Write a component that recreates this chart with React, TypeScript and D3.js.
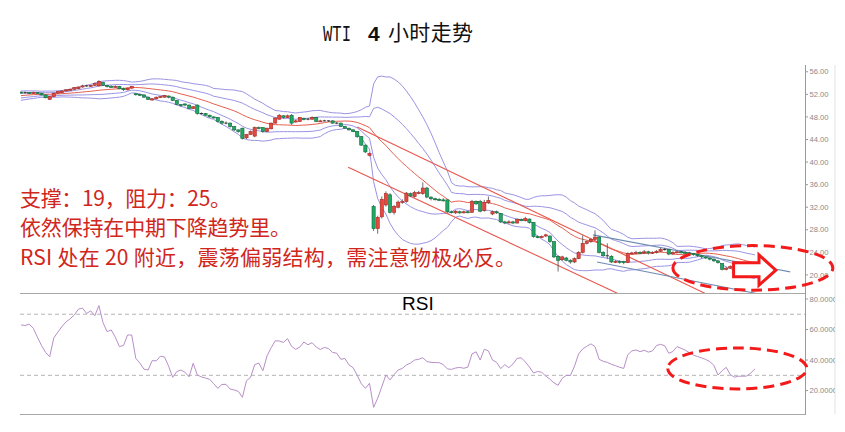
import React from 'react';
import * as d3 from 'd3';

// ---------------- DATA ----------------
// closes of the 19 bars before the visible window (estimated, only used to seed the 20-bar Bollinger band)
const prevCloses = [51.0, 51.1, 51.3, 51.2, 51.4, 51.6, 51.5, 51.7, 51.8, 51.6, 51.9, 52.0, 51.8, 52.1, 52.2, 52.0, 52.3, 52.2, 52.4];

const opens = [
  52.4,52.3,52.3,52.2,52.3,52.2,51.9,51.1,51.6,52.2,
  52.3,52.6,52.7,52.9,53.0,53.3,53.5,53.5,53.6,53.5,
  54.1,53.6,53.4,53.3,53.4,53.0,52.8,53.1,52.1,52.0,
  51.9,51.5,51.0,51.2,51.5,51.5,51.7,51.5,50.9,50.2,
  50.3,50.1,49.5,50.1,48.6,48.6,48.3,48.0,47.9,47.2,
  46.9,46.9,46.3,45.7,46.0,44.3,44.9,44.6,46.1,46.1,
  45.4,45.9,46.9,47.6,48.2,47.9,48.3,47.1,47.2,47.7,
  47.6,47.6,47.9,47.2,47.3,47.3,47.3,46.9,46.9,46.3,
  46.0,45.7,45.4,44.5,43.0,41.2,
  32.1,28.2,30.3,32.4,34.2,31.1,32.0,32.9,33.0,34.4,
  33.9,34.5,34.4,35.4,33.8,33.5,33.4,33.3,33.3,31.2,
  31.0,31.2,31.0,31.2,31.1,33.0,33.0,31.4,32.8,30.8,
  31.2,30.9,29.4,29.3,29.4,29.2,29.8,29.6,29.9,29.3,
  26.8,26.7,26.9,26.9,25.9,23.3,22.7,23.0,22.6,22.3,
  22.9,24.0,25.6,25.9,26.3,26.7,24.0,23.4,23.3,22.3,
  22.4,22.4,22.2,23.8,23.9,24.0,23.9,24.1,23.9,24.0,
  24.2,24.5,24.5,23.7,24.0,24.1,24.0,23.9,23.8,23.6,
  23.4,23.2,23.0,22.8,22.5,22.0,21.0,21.2,20.6,20.4,
  20.4,20.5,20.4,20.5,
];
const highs = [
  52.5,52.5,52.4,52.5,52.4,52.3,52.0,51.7,52.3,52.6,
  52.7,52.9,53.0,53.3,53.4,53.7,53.7,53.7,54.1,54.5,
  54.2,53.7,53.6,53.6,53.5,53.2,53.2,53.5,52.2,52.1,
  52.0,51.6,51.3,51.6,51.7,51.9,51.8,51.6,51.0,50.3,
  50.4,50.2,49.9,50.2,48.8,48.7,48.4,48.1,48.0,47.4,
  47.2,47.0,46.4,45.8,46.1,45.0,45.6,46.3,46.3,46.2,
  46.1,47.0,47.9,48.5,48.3,48.4,48.5,47.5,48.0,47.9,
  47.8,48.1,48.0,47.5,47.5,47.4,47.4,47.1,47.0,46.4,
  46.1,45.8,45.5,44.6,43.1,41.7,
  32.4,30.5,33.9,34.8,34.5,32.4,33.2,33.4,34.7,34.6,
  34.9,34.9,36.4,35.6,33.9,33.7,33.6,33.6,33.4,31.4,
  31.5,31.4,31.4,31.4,33.3,33.2,33.3,33.3,33.9,31.4,
  31.4,31.0,29.6,29.7,29.6,30.0,30.0,30.3,30.0,29.4,
  27.0,27.0,27.3,27.0,26.0,23.5,23.4,23.2,22.8,23.1,
  24.2,27.0,26.1,26.5,27.9,26.9,24.2,25.6,23.5,22.6,
  22.6,22.5,24.0,24.1,24.3,24.2,24.4,24.3,24.2,24.4,
  24.8,24.8,24.6,24.2,24.3,24.3,24.2,24.1,23.9,23.7,
  23.5,23.3,23.1,22.9,22.6,22.1,21.4,21.7,20.8,20.6,
  20.7,20.7,20.7,20.8,
];
const lows = [
  52.1,52.1,52.0,52.1,52.0,51.8,51.3,51.0,51.5,52.1,
  52.2,52.5,52.6,52.8,52.9,53.2,53.3,53.3,53.5,53.4,
  53.5,53.2,53.2,53.2,52.9,52.6,52.7,53.0,51.8,51.7,
  51.4,51.0,50.9,51.1,51.4,51.4,51.3,50.8,50.1,49.8,
  49.9,49.4,49.4,48.4,48.4,48.2,47.9,47.7,47.0,46.7,
  46.7,46.1,45.5,45.2,44.0,44.1,44.8,44.4,45.8,45.2,
  45.3,45.8,46.8,47.5,47.7,47.8,46.6,47.0,47.1,47.4,
  47.4,47.5,47.1,47.1,47.2,47.1,46.8,46.7,46.2,45.9,
  45.6,45.3,44.3,42.9,41.6,41.0,
  27.8,27.3,30.0,32.1,30.9,30.7,31.8,32.6,32.8,33.8,
  33.7,34.3,34.2,33.6,33.2,33.2,33.1,33.0,31.0,30.9,
  30.8,30.8,30.9,30.9,31.0,32.4,31.1,31.2,32.6,30.6,
  30.8,29.2,29.0,29.1,29.0,29.1,29.5,29.5,29.1,26.6,
  26.5,26.5,26.7,25.7,23.0,20.6,22.5,22.4,22.0,22.1,
  22.8,23.8,25.4,25.7,26.1,23.8,23.2,22.8,22.1,22.1,
  22.0,21.9,22.1,23.6,23.7,23.7,23.7,23.6,23.7,23.8,
  24.1,24.3,23.5,23.6,23.8,23.8,23.7,23.6,23.4,23.2,
  22.9,22.8,22.6,22.3,22.0,20.8,20.8,21.1,20.2,20.2,
  20.2,19.6,20.2,20.3,
];
const closes = [
  52.3,52.3,52.2,52.3,52.2,51.9,51.4,51.6,52.2,52.5,
  52.6,52.8,52.9,53.2,53.3,53.5,53.5,53.6,53.9,54.3,
  53.6,53.4,53.3,53.4,53.0,52.9,53.1,53.4,52.0,51.9,
  51.5,51.1,51.2,51.5,51.6,51.8,51.5,50.9,50.2,50.0,
  50.1,49.5,49.8,48.6,48.6,48.3,48.0,47.9,47.2,46.9,
  46.9,46.3,45.7,45.4,44.2,44.9,45.4,46.1,46.0,45.4,
  46.0,46.9,47.8,48.3,47.9,48.2,46.9,47.3,47.9,47.6,
  47.6,47.9,47.2,47.3,47.3,47.3,46.9,46.9,46.3,46.0,
  45.7,45.4,44.5,43.0,41.8,41.5,
  28.2,30.2,33.4,34.4,31.1,32.1,32.9,33.0,34.5,34.0,
  34.6,34.6,35.4,33.8,33.5,33.4,33.3,33.2,31.2,31.1,
  31.3,31.0,31.2,31.1,33.0,32.6,31.3,32.8,33.2,31.2,
  31.0,29.4,29.2,29.4,29.2,29.8,29.7,30.0,29.3,26.8,
  26.7,26.8,27.1,25.9,23.2,22.6,23.2,22.6,22.3,22.9,
  24.0,25.6,25.9,26.3,26.7,24.0,23.4,23.4,22.3,22.4,
  22.3,22.2,23.8,23.9,24.0,23.9,24.1,23.9,24.0,24.2,
  24.5,24.5,23.7,24.0,24.1,24.0,23.9,23.8,23.6,23.4,
  23.2,23.0,22.8,22.5,22.2,21.0,21.2,21.5,20.4,20.4,
  20.5,20.4,20.5,20.6,
];
const rsiValues = [
  63,62.6,63.5,60.8,55,49.5,45,42.2,54.5,58.3,
  62,65,67,69.5,73.3,74,70.5,72.2,69,75.7,
  64.5,58.6,59.7,55,48.8,49.5,56.4,56.4,41.1,38,
  34,33.5,39.6,39.5,42.5,42,36,28.7,32.4,33.5,
  32,29,37.9,30.2,29,28.2,27.4,24.5,21.5,24,
  24.1,21,20.4,19.5,15.6,26.5,28.7,37,38,33,
  42.7,48,52.6,52.5,51.5,54,49,47,48.5,51.8,
  50,51.4,48.5,46.9,48.3,47.5,45,44.5,40.5,41,
  36.8,35,30,24.5,21.5,24.8,9,15,22.5,30.2,
  27,30.5,33.5,34.5,36.8,38,40,40.5,41.5,39,
  38.5,38.3,38.3,37,34.2,33.9,34.8,35.2,34.6,35.4,
  44,45.4,40,47.1,46,40,38.5,34.4,37,35,
  37.5,41.1,41.5,38.8,35.5,31.5,32.5,32,29.5,27.5,
  25,23.5,28,30,29.8,36,44,47.3,49,50.6,
  48.8,40.5,39.2,38.5,37.2,36.3,35.3,34.5,43.5,46,
  46.6,45.5,46.4,45.2,46,49.5,50.3,49.4,44.4,45.6,
  48.8,47.7,46.5,44.9,43.2,42.3,41.4,40.4,39,36.5,
  30.2,33,35.2,30.5,28.8,29.4,29.4,29.5,31.5,34.2,
];

const priceTicks = [56, 52, 48, 44, 40, 36, 32, 28, 24, 20];
const rsiTicks = [80, 60, 40, 20];
const rsiLevels = [70, 30];

// trend lines: [bar index, price]
const redTrendUpper = [[82, 46.2], [175, 13.9]];
const redTrendLower = [[79.8, 39.1], [160, 11.8]];
const blueTrendUpper = [[139.5, 27.1], [187.6, 20.55]];
const blueTrendLower = [[140.5, 22.3], [185, 15.9]];

// annotations in data units
const priceEllipse = { bar: 178.5, price: 21.25, rBars: 19.5, rPrice: 3.95 };
const rsiEllipse = { bar: 174.7, rsi: 34.5, rBars: 16.95, rRsi: 13.4 };
const arrowShape = [[173.8, 22.15], [180.0, 22.15], [180.0, 23.55], [184.1, 20.85], [180.0, 18.2], [180.0, 19.7], [173.8, 19.7]];

const notes = ['支撑：19，阻力：25。', '依然保持在中期下降趋势里。', 'RSI 处在 20 附近，震荡偏弱结构，需注意物极必反。'];
const noteWidths = [211, 271, 496];

// ---------------- CHART ----------------
const X0 = 20, X1 = 805;
const x = d3.scaleLinear().domain([-1 / 4.1, (805 - 21) / 4.1]).range([X0, X1]);
const yP = d3.scaleLinear().domain([16.8, 57.2]).range([293, 65]);
const yR = d3.scaleLinear().domain([4.67, 83.9]).range([414, 293]);

const allCloses = [...prevCloses, ...closes];
const bb = closes.map((_, i) => {
  const j = i + prevCloses.length;
  const win = allCloses.slice(Math.max(0, j - 19), j + 1);
  const m = d3.mean(win) as number;
  const sd = Math.sqrt(d3.mean(win.map((v) => (v - m) * (v - m))) as number);
  return { m, sd };
});

const lineGen = d3.line<number>().x((_, i) => x(i)).y((d) => yP(d));
const rsiLine = d3.line<number>().x((_, i) => x(i)).y((d) => yR(d));
const segP = (pts: number[][]) => d3.line<number[]>().x((d) => x(d[0])).y((d) => yP(d[1]))(pts) as string;

function ellipsePath(cx: number, cy: number, rx: number, ry: number) {
  return `M${cx - rx},${cy} A${rx},${ry} 0 1,0 ${cx + rx},${cy} A${rx},${ry} 0 1,0 ${cx - rx},${cy} Z`;
}

export default function App() {
  const bandColor = '#9b93e3';
  const up = { fill: '#e8473f', stroke: '#a62a22' };
  const down = { fill: '#22a866', stroke: '#11683a' };
  const cw = 3.2;

  const candles = closes.map((c, i) => {
    const o = opens[i];
    const cx = x(i);
    const isUp = c >= o;
    const col = isUp ? up : down;
    const top = yP(Math.max(o, c));
    const bot = yP(Math.min(o, c));
    const doji = Math.abs(o - c) < 0.05;
    return (
      <g key={i}>
        <line x1={cx} x2={cx} y1={yP(highs[i])} y2={yP(lows[i])} stroke="#4a4a4a" strokeWidth={0.8} />
        {doji ? (
          <line x1={cx - cw / 2} x2={cx + cw / 2} y1={top} y2={top} stroke="#333" strokeWidth={1} />
        ) : (
          <rect x={cx - cw / 2} y={top} width={cw} height={Math.max(1, bot - top)} fill={col.fill} stroke={col.stroke} strokeWidth={0.6} />
        )}
      </g>
    );
  });

  const pe = priceEllipse;
  const pcx = x(pe.bar), pcy = yP(pe.price);
  const prx = x(pe.bar + pe.rBars) - pcx, pry = yP(pe.price - pe.rPrice) - pcy;
  const re = rsiEllipse;
  const rcx = x(re.bar), rcy = yR(re.rsi);
  const rrx = x(re.bar + re.rBars) - rcx, rry = yR(re.rsi - re.rRsi) - rcy;
  const arrowPts = arrowShape.map((p) => `${x(p[0])},${yP(p[1])}`).join(' ');

  return (
    <svg width={845} height={432} style={{ position: 'absolute', left: 0, top: 0, background: '#fff' }} fontFamily="'Liberation Sans', Arial, sans-serif">
      <defs>
        <clipPath id="cp"><rect x={20} y={60} width={785} height={233} /></clipPath>
        <clipPath id="cr"><rect x={20} y={293} width={785} height={121} /></clipPath>
        <clipPath id="cl"><rect x={0} y={0} width={835} height={432} /></clipPath>
      </defs>
      <rect x={0} y={0} width={845} height={432} fill="#fff" />

      {/* title */}
      <text x={323} y={41} fontFamily="'Liberation Mono', monospace" fontSize={22} textLength={28} lengthAdjust="spacingAndGlyphs" fill="#111">WTI</text>
      <text x={368} y={41} fontFamily="'Liberation Sans', Arial" fontWeight="bold" fontSize={21} fill="#111">4</text>
      <text x={388} y={40} fontFamily="'Noto Sans CJK SC', sans-serif" fontSize={21} textLength={85} fill="#111">小时走势</text>

      {/* frames */}
      <line x1={835} x2={835} y1={65} y2={414} stroke="#e2e2e2" />
      <line x1={20} x2={805} y1={293.5} y2={293.5} stroke="#a8a8a8" />
      <line x1={20} x2={805} y1={414.5} y2={414.5} stroke="#a8a8a8" />
      <line x1={805.5} x2={805.5} y1={65} y2={415} stroke="#9a9a9a" />

      {/* price panel */}
      <g clipPath="url(#cp)">
        {[2, 1, -1, -2].map((k) => (
          <path key={k} d={lineGen(bb.map((b) => b.m + k * b.sd)) as string} fill="none" stroke={bandColor} strokeWidth={1} />
        ))}
        <path d={lineGen(bb.map((b) => b.m)) as string} fill="none" stroke="#e5604f" strokeWidth={1} />
        <path d={segP(redTrendUpper)} stroke="#e8574d" strokeWidth={1.1} fill="none" />
        <path d={segP(redTrendLower)} stroke="#e8574d" strokeWidth={1.1} fill="none" />
        <path d={segP(blueTrendUpper)} stroke="#6f8db3" strokeWidth={1.1} fill="none" />
        <path d={segP(blueTrendLower)} stroke="#6f8db3" strokeWidth={1.1} fill="none" />
        {candles}
      </g>

      {/* price axis */}
      <g clipPath="url(#cl)">
        {priceTicks.map((t) => (
          <g key={t}>
            <line x1={805} x2={808} y1={yP(t)} y2={yP(t)} stroke="#9a9a9a" />
            <text x={809.5} y={yP(t)} dy="0.35em" fontSize={7.6} fill="#8a8a8a">{t.toFixed(2)}</text>
          </g>
        ))}
        {rsiTicks.map((t) => (
          <g key={t}>
            <line x1={805} x2={808} y1={yR(t)} y2={yR(t)} stroke="#9a9a9a" />
            <text x={809.5} y={yR(t)} dy="0.35em" fontSize={7.6} fill="#8a8a8a">{t.toFixed(4)}</text>
          </g>
        ))}
      </g>

      {/* RSI panel */}
      <g clipPath="url(#cr)">
        {rsiLevels.map((l) => (
          <line key={l} x1={20} x2={805} y1={yR(l)} y2={yR(l)} stroke="#b5b5b5" strokeDasharray="4 3" />
        ))}
        <path d={rsiLine(rsiValues) as string} fill="none" stroke="#b78fc7" strokeWidth={1} />
      </g>
      <text x={402} y={310} fontSize={19} fill="#000">RSI</text>

      {/* notes */}
      {notes.map((t, i) => (
        <text key={i} x={20} y={206 + i * 29.3} fontFamily="'Noto Sans CJK SC', sans-serif" fontSize={21} fill="#d0261c" textLength={noteWidths[i]} lengthAdjust="spacing">{t}</text>
      ))}

      {/* annotations */}
      <path d={ellipsePath(pcx, pcy, prx, pry)} fill="none" stroke="#f21a1a" strokeWidth={3} strokeDasharray="11 6" />
      <path d={ellipsePath(rcx, rcy, rrx, rry)} fill="none" stroke="#f21a1a" strokeWidth={3} strokeDasharray="11 6" />
      <polygon points={arrowPts} fill="#fff" stroke="#f21a1a" strokeWidth={3} strokeLinejoin="miter" />
    </svg>
  );
}
